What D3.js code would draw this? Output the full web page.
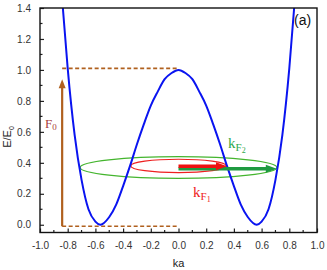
<!DOCTYPE html>
<html>
<head>
<meta charset="utf-8">
<script src="https://cdn.jsdelivr.net/npm/d3@7"></script>
<style>
body { margin: 0; background: #fff; }
text { font-family: "Liberation Sans", Arial, sans-serif; }
.serif { font-family: "Liberation Serif", "Times New Roman", serif; }
</style>
</head>
<body>
<div id="chart"></div>
<script>
// band energy (ka, E/E0)
var ka = [-0.835, -0.80, -0.75, -0.70, -0.65, -0.60, -0.565, -0.50, -0.45, -0.40, -0.35, -0.30, -0.25, -0.20, -0.15, -0.10, -0.05, 0.00,
          0.05, 0.10, 0.15, 0.20, 0.25, 0.30, 0.35, 0.40, 0.45, 0.50, 0.565, 0.60, 0.65, 0.70, 0.75, 0.80, 0.835];
var energy = [1.40, 1.01, 0.58, 0.29, 0.10, 0.02, 0.00, 0.05, 0.13, 0.25, 0.38, 0.52, 0.65, 0.77, 0.86, 0.94, 0.98, 1.00,
              0.98, 0.94, 0.86, 0.77, 0.65, 0.52, 0.38, 0.25, 0.13, 0.05, 0.00, 0.02, 0.10, 0.29, 0.58, 1.01, 1.40];

var xTicks = [-1.0, -0.8, -0.6, -0.4, -0.2, 0.0, 0.2, 0.4, 0.6, 0.8, 1.0];
var yTicks = [0.0, 0.2, 0.4, 0.6, 0.8, 1.0, 1.2, 1.4];

// Fermi surfaces (ellipses) and Fermi wave vectors
var ellipses = [
  {name: "F2", cx: 0, cy: 0.37, rx: 0.71, ry: 0.07, color: "#44b52e"},
  {name: "F1", cx: 0, cy: 0.38, rx: 0.345, ry: 0.043, color: "#ee2020"}
];
var arrows = [
  {name: "F2", x0: 0, x1: 0.71, y: 0.362, color: "#1f9a40", w: 3.5},
  {name: "F1", x0: 0, x1: 0.35, y: 0.378, color: "#ee1111", w: 3.5}
];
// field F0: dashed levels and arrow
var fieldX = [-0.84, 0.0];
var fieldLevels = [-0.01, 1.01];
var fieldTip = 0.94;

var W = 327, H = 270;
var margin = {left: 40, right: 10, top: 8, bottom: 37.5};

var svg = d3.select("#chart").append("svg").attr("width", W).attr("height", H);

var x = d3.scaleLinear().domain([-1, 1]).range([margin.left, W - margin.right]);
var y = d3.scaleLinear().domain([-0.05, 1.4]).range([H - margin.bottom, margin.top]);

svg.append("clipPath").attr("id", "clip").append("rect")
  .attr("x", x(-1)).attr("y", y(1.4)).attr("width", x(1) - x(-1)).attr("height", y(-0.05) - y(1.4));

var plot = svg.append("g").attr("clip-path", "url(#clip)");

// field lines
var brown = "#b0601e";
fieldLevels.forEach(function(v) {
  plot.append("line")
    .attr("x1", x(fieldX[0])).attr("x2", x(fieldX[1]))
    .attr("y1", y(v)).attr("y2", y(v))
    .attr("stroke", brown).attr("stroke-width", 1.6).attr("stroke-dasharray", "4,2.5");
});
plot.append("line")
  .attr("x1", x(fieldX[0])).attr("x2", x(fieldX[0]))
  .attr("y1", y(fieldLevels[0])).attr("y2", y(fieldTip) + 6)
  .attr("stroke", brown).attr("stroke-width", 2.2);
plot.append("path")
  .attr("d", "M" + (x(fieldX[0]) - 3.5) + "," + (y(fieldTip) + 9) + "L" + x(fieldX[0]) + "," + y(fieldTip) +
             "L" + (x(fieldX[0]) + 3.5) + "," + (y(fieldTip) + 9) + "Z")
  .attr("fill", brown);

// ellipses
plot.selectAll("ellipse").data(ellipses).enter().append("ellipse")
  .attr("cx", function(d) { return x(d.cx); })
  .attr("cy", function(d) { return y(d.cy); })
  .attr("rx", function(d) { return x(d.rx) - x(0); })
  .attr("ry", function(d) { return y(0) - y(d.ry); })
  .attr("fill", "none")
  .attr("stroke", function(d) { return d.color; })
  .attr("stroke-width", 1.2);

// band curve
var line = d3.line()
  .x(function(d) { return x(d[0]); })
  .y(function(d) { return y(d[1]); })
  .curve(d3.curveMonotoneX);
plot.append("path")
  .datum(d3.zip(ka, energy))
  .attr("d", line)
  .attr("fill", "none")
  .attr("stroke", "#0a14f0")
  .attr("stroke-width", 2);

// k_F arrows
arrows.forEach(function(a) {
  var xe = x(a.x1), yy = y(a.y);
  plot.append("line")
    .attr("x1", x(a.x0)).attr("x2", xe - 8)
    .attr("y1", yy).attr("y2", yy)
    .attr("stroke", a.color).attr("stroke-width", a.w);
  plot.append("path")
    .attr("d", "M" + (xe - 11) + "," + (yy - 4) + "L" + xe + "," + yy + "L" + (xe - 11) + "," + (yy + 4) + "Z")
    .attr("fill", a.color);
});

// axes: ticks inward, minor ticks at 0.1
var xAxis = d3.axisBottom(x).tickValues(xTicks).tickSize(-4).tickPadding(9).tickFormat(d3.format(".1f"));
var yAxis = d3.axisLeft(y).tickValues(yTicks).tickSize(-4).tickPadding(9).tickFormat(d3.format(".1f"));

var gx = svg.append("g").attr("transform", "translate(0," + y(-0.05) + ")").call(xAxis);
var gy = svg.append("g").attr("transform", "translate(" + x(-1) + ",0)").call(yAxis);
[gx, gy].forEach(function(g) {
  g.select(".domain").remove();
  g.selectAll(".tick line").attr("stroke", "#222").attr("stroke-width", 1.2);
  g.selectAll(".tick text").attr("fill", "#333").style("font-size", "10px")
    .text(function(d) { return d3.format(".1f")(d).replace("−", "-"); });
});

var xMinor = d3.range(-9, 10, 2).map(function(i) { return i / 10; });
var yMinor = d3.range(1, 14, 2).map(function(i) { return i / 10; });
svg.append("g").selectAll("line").data(xMinor).enter().append("line")
  .attr("x1", function(d) { return x(d); }).attr("x2", function(d) { return x(d); })
  .attr("y1", y(-0.05)).attr("y2", y(-0.05) - 2.5)
  .attr("stroke", "#222").attr("stroke-width", 1.2);
svg.append("g").selectAll("line").data(yMinor).enter().append("line")
  .attr("x1", x(-1)).attr("x2", x(-1) + 2.5)
  .attr("y1", function(d) { return y(d); }).attr("y2", function(d) { return y(d); })
  .attr("stroke", "#222").attr("stroke-width", 1.2);

// frame
svg.append("rect")
  .attr("x", x(-1)).attr("y", y(1.4))
  .attr("width", x(1) - x(-1)).attr("height", y(-0.05) - y(1.4))
  .attr("fill", "none").attr("stroke", "#111").attr("stroke-width", 1.4);

// axis titles
svg.append("text").attr("x", x(0)).attr("y", 267).attr("text-anchor", "middle")
  .style("font-size", "11px").attr("fill", "#222").text("ka");
var yl = svg.append("text").attr("transform", "translate(11,137) rotate(-90)")
  .attr("text-anchor", "middle").style("font-size", "11px").attr("fill", "#222");
yl.append("tspan").text("E/E");
yl.append("tspan").attr("dy", 3).style("font-size", "7px").text("0");

svg.append("text").attr("x", 294).attr("y", 25).style("font-size", "14px").attr("fill", "#111").text("(a)");

// annotations
var f0 = svg.append("text").attr("class", "serif").attr("x", 45).attr("y", 128)
  .style("font-size", "13px").attr("fill", "#a8403a");
f0.append("tspan").text("F");
f0.append("tspan").attr("dy", 2).style("font-size", "9px").text("0");

function kLabel(px, py, sub, color) {
  var t = svg.append("text").attr("class", "serif").attr("x", px).attr("y", py)
    .style("font-size", "15px").attr("fill", color);
  t.append("tspan").text("k");
  t.append("tspan").attr("dy", 3).style("font-size", "11px").text("F");
  t.append("tspan").attr("dy", 2).style("font-size", "8px").text(sub);
}
kLabel(228, 148, "2", "#2fa84a");
kLabel(193, 197, "1", "#ee2020");
</script>
</body>
</html>
